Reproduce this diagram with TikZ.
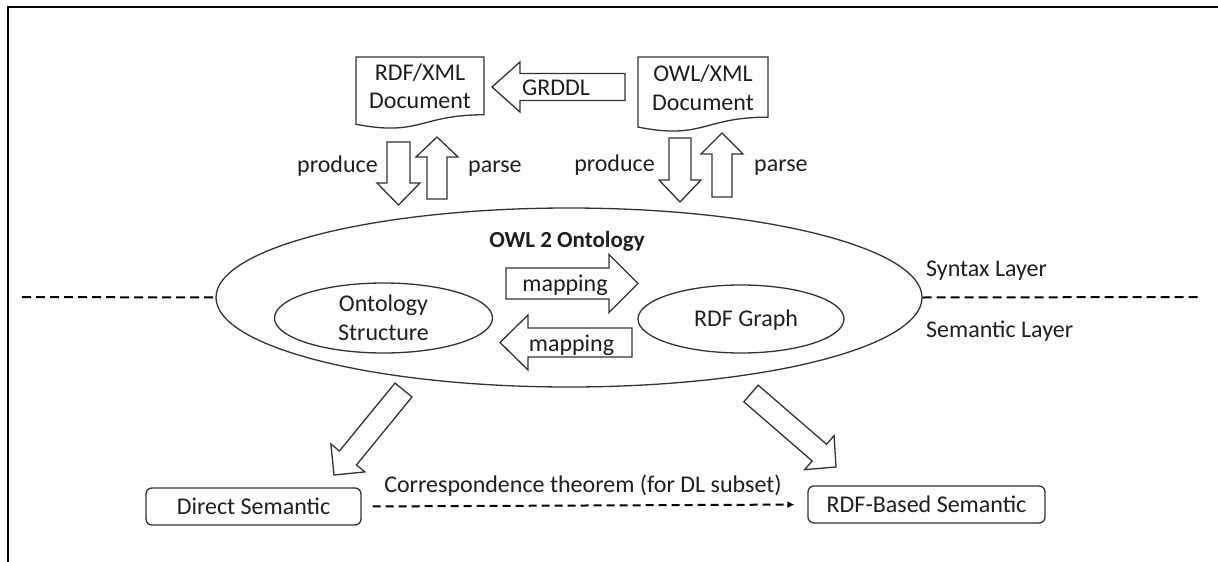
\documentclass[tikz,border=0pt]{standalone}
\usepackage{fontspec}
\setmainfont{Carlito}
\usetikzlibrary{calc,arrows.meta,shapes.geometric}

% Document shape: left, right, top, height (wavy bottom edge)
\newcommand\docshape[4]{%
  \draw[outline, fill=white] (#1,#3) -- (#2,#3) -- (#2,{#3+0.802*#4})
    .. controls ({(#1+#2)/2},{#3+0.802*#4}) and ({(#1+#2)/2},{#3+1.107*#4}) ..
    (#1,{#3+0.934*#4}) -- cycle;}

% Hollow block arrow: tail, tip, shaft half width, head half width, head length
\newcommand\blockarrow[5]{%
  \coordinate (bah) at ($(#2)!#5pt!(#1)$);
  \draw[blockarr] ($(#1)!#3pt!90:(#2)$) -- ($(bah)!#3pt!90:(#2)$)
    -- ($(bah)!#4pt!90:(#2)$) -- (#2) -- ($(bah)!#4pt!-90:(#2)$)
    -- ($(bah)!#3pt!-90:(#2)$) -- ($(#1)!#3pt!-90:(#2)$) -- cycle;}

\begin{document}
\begin{tikzpicture}[x=1pt,y=-1pt,
  every node/.style={font=\fontsize{24}{28}\selectfont, inner sep=0pt, text=black!88},
  outline/.style={draw=black!80, line width=1.3pt},
  blockarr/.style={outline, fill=white, line join=miter},
  oval/.style={ellipse, outline, inner sep=0pt},
  semantic/.style={outline, rounded corners=6pt, minimum width=#1, minimum height=37},
  layerline/.style={line width=2pt, dash pattern=on 9pt off 5pt},
  corrline/.style={line width=2pt, dash pattern=on 8pt off 5pt, -{Latex[length=7pt,width=7pt]}}
]
\useasboundingbox (0,0) rectangle (1218,562);

% frame
\draw[line width=2pt] (8,562) -- (8,7) -- (1218,7);

% serialisations
\docshape{356}{484}{57}{72}
\node[anchor=base] (rdf1) at (420,80) {RDF/XML};
\node[anchor=base] (rdf2) at (420,108) {Document};

\docshape{638}{768}{57}{75}
\node[anchor=base] (owl1) at (703,81) {OWL/XML};
\node[anchor=base] (owl2) at (703,110) {Document};

\coordinate (grddl-tail) at (625,87);
\coordinate (grddl-tip) at (492,87);
\blockarrow{grddl-tail}{grddl-tip}{13.5}{25}{28}
\node[anchor=base] (grddl) at (556,95) {GRDDL};

% ontology and its layers
\node[oval, minimum width=706, minimum height=179] (owl) at (569,297.5) {};
\draw[layerline] (22,297) -- (owl.west);
\draw[layerline] (owl.east) -- (1200,297);
\node[anchor=base west] (syn) at (926,276) {Syntax Layer};
\node[anchor=base west] (sem) at (926,337) {Semantic Layer};

\node[anchor=base, font=\fontsize{23}{28}\selectfont\bfseries] (title) at (567,247) {OWL 2 Ontology};

\node[oval, minimum width=218, minimum height=70] (ostruct) at (383.5,318) {};
\node[anchor=base] (os1) at (383.5,311) {Ontology};
\node[anchor=base] (os2) at (383.5,340) {Structure};

\node[oval, minimum width=206, minimum height=68] (rdfg) at (741,319) {};
\node[anchor=base] (rdfgl) at (746,326) {RDF Graph};

\coordinate (m1-tail) at (506,283.5);
\coordinate (m1-tip) at (638,283.5);
\blockarrow{m1-tail}{m1-tip}{15.5}{29}{29}
\node[anchor=base] (map1) at (565,291) {mapping};

\coordinate (m2-tail) at (632,342.5);
\coordinate (m2-tip) at (500,342.5);
\blockarrow{m2-tail}{m2-tip}{14.5}{27.5}{28}
\node[anchor=base] (map2) at (571.5,351) {mapping};

% produce / parse
\coordinate (p1-tail) at (398.5,142);
\coordinate (p1-tip) at (398.5,205);
\blockarrow{p1-tail}{p1-tip}{11.5}{21.5}{22}
\coordinate (q1-tail) at (437,199);
\coordinate (q1-tip) at (437,137);
\blockarrow{q1-tail}{q1-tip}{10}{21}{20}
\node[anchor=base east] (prod1) at (378,172) {produce};
\node[anchor=base west] (pars1) at (468,172) {parse};

\coordinate (p2-tail) at (680,138);
\coordinate (p2-tip) at (680,202);
\blockarrow{p2-tail}{p2-tip}{11}{21}{22}
\coordinate (q2-tail) at (722,197);
\coordinate (q2-tip) at (722,133);
\blockarrow{q2-tail}{q2-tip}{10}{21}{21}
\node[anchor=base east] (prod2) at (655,171) {produce};
\node[anchor=base west] (pars2) at (754,171) {parse};

% semantics
\coordinate (d1-tail) at (403.5,390);
\coordinate (d1-tip) at (334,475);
\blockarrow{d1-tail}{d1-tip}{11}{22}{22}
\coordinate (d2-tail) at (751,393.5);
\coordinate (d2-tip) at (836,467);
\blockarrow{d2-tail}{d2-tip}{11}{22.5}{22}

\node[semantic=215] (direct) at (253.5,506.5) {Direct Semantic};
\node[semantic=237] (rdfsem) at (926.5,504.5) {RDF-Based Semantic};
\draw[corrline, shorten <=11pt, shorten >=13pt] (direct.east) -- (rdfsem.west);
\node[anchor=base] (corr) at (583,492) {Correspondence theorem (for DL subset)};
\end{tikzpicture}
\end{document}
